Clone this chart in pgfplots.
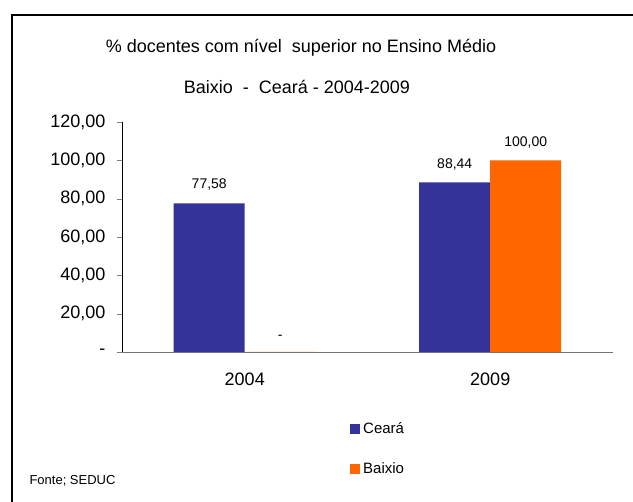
\documentclass[border=0pt]{standalone}
\usepackage{pgfplots}
\usepackage{pgfplotstable}
\pgfplotsset{compat=1.18}
\usepackage{fontspec}
\setmainfont{Liberation Sans}

\definecolor{ceara}{RGB}{51,51,153}
\definecolor{baixio}{RGB}{255,102,0}

% valores e rótulos (formato brasileiro)
\pgfplotstableread{
x ceara lc    baixio lb
0 77.58 77,58 0      -
1 88.44 88,44 100    100,00
}\docentes

\begin{document}
\begin{tikzpicture}
\useasboundingbox (0,0) rectangle (633pt,502pt);
% moldura (so topo e esquerda aparecem)
\draw[line width=1.4pt] (12pt,0) -- (12pt,487pt) -- (633pt,487pt);

\begin{axis}[
        at={(122pt,150pt)}, anchor=south west,
        scale only axis,
        width=491pt, height=230pt,
        ymin=0, ymax=120,
        xmin=-0.5, xmax=1.5,
        ybar=0pt,
        bar width=71pt,
        axis x line*=bottom,
        axis y line*=left,
        x axis line style={black!55},
        tick align=outside,
        major tick length=5pt,
        xtick={0,1},
        xticklabels={2004,2009},
        major x tick style=transparent,
        extra x ticks={-0.5,0.5,1.5},
        extra x tick labels={},
        extra x tick style={major x tick style={black!55}},
        ytick={0,20,...,120},
        yticklabels={{-},{20,00},{40,00},{60,00},{80,00},{100,00},{120,00}},
        tick label style={font=\fontsize{18}{20}\selectfont},
        yticklabel style={xshift=-8pt},
        xticklabel style={yshift=-12pt},
        point meta=explicit symbolic,
        nodes near coords,
        nodes near coords style={font=\fontsize{14}{15}\selectfont, yshift=9pt},
        legend style={at={(0.4644,-0.296)}, anchor=north west, draw=none, fill=none,
            font=\fontsize{15}{16}\selectfont, row sep=24pt, inner sep=0pt,
            nodes={inner xsep=3pt}},
        legend cell align=left,
        legend image code/.code={\fill[#1] (0pt,-5pt) rectangle (10pt,5pt);},
    ]
\addplot[fill=ceara, draw=none] table[x=x, y=ceara, meta=lc] {\docentes};
\addlegendentry{Ceará}
\addplot[fill=baixio, draw=none] table[x=x, y=baixio, meta=lb] {\docentes};
\addlegendentry{Baixio}
\end{axis}

\node[font=\fontsize{18}{20}\selectfont] at (301pt,454pt) {\% docentes com nível\ \ superior no Ensino Médio};
\node[font=\fontsize{18}{20}\selectfont] at (297pt,415pt) {Baixio \ - \ Ceará - 2004-2009};
\node[anchor=west, font=\fontsize{13}{14}\selectfont] at (26pt,21pt) {Fonte; SEDUC};
\end{tikzpicture}
\end{document}
